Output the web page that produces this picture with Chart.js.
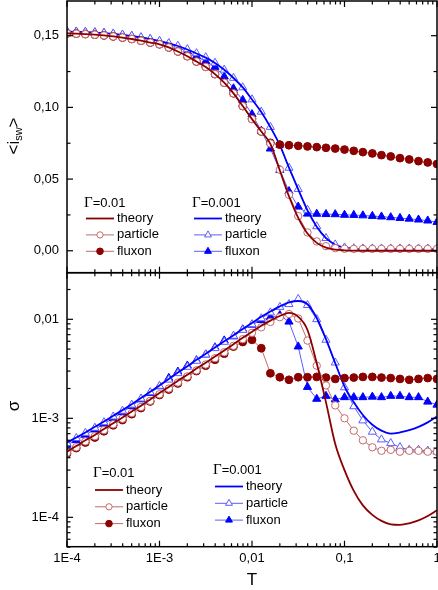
<!DOCTYPE html>
<html>
<head>
<meta charset="utf-8">
<script src="https://cdn.jsdelivr.net/npm/chart.js@4.4.0/dist/chart.umd.min.js"></script>
<style>
html, body { margin: 0; padding: 0; background: #fff; }
#wrap { position: relative; width: 438px; height: 590px; }
#topBox { position: absolute; left: 0; top: 0; width: 438px; height: 274px; }
#botBox { position: absolute; left: 0; top: 271px; width: 438px; height: 319px; }
</style>
</head>
<body>
<div id="wrap">
  <div id="topBox"><canvas id="topChart"></canvas></div>
  <div id="botBox"><canvas id="botChart"></canvas></div>
</div>
<script>
// temperature grid (10 points per decade)
const tValues = [
  1.0e-4, 1.26e-4, 1.58e-4, 2.0e-4, 2.51e-4, 3.16e-4, 3.98e-4, 5.01e-4, 6.31e-4, 7.94e-4,
  1.0e-3, 1.26e-3, 1.58e-3, 2.0e-3, 2.51e-3, 3.16e-3, 3.98e-3, 5.01e-3, 6.31e-3, 7.94e-3,
  1.0e-2, 1.26e-2, 1.58e-2, 2.0e-2, 2.51e-2, 3.16e-2, 3.98e-2, 5.01e-2, 6.31e-2, 7.94e-2,
  0.1, 0.126, 0.158, 0.2, 0.251, 0.316, 0.398, 0.501, 0.631, 0.794, 1.0
];

// <i_sw> panel
const swRedTheory = [
  .1516, .1514, .1511, .1507, .1502, .1495, .1487, .1477, .1465, .1452,
  .1440, .1418, .1390, .1357, .1320, .1282, .1232, .1172, .1098, .1009,
  .0918, .0832, .0745, .0560, .0380, .0230, .0120, .0055, .0022, .0008,
  .0003, .0001, 0, 0, 0, 0, 0, 0, 0, 0, 0
];
const swRedParticle = [
  .1516, .1514, .1511, .1507, .1502, .1495, .1487, .1477, .1465, .1452,
  .1440, .1418, .1390, .1357, .1320, .1282, .1232, .1172, .1098, .1009,
  .0918, .0832, .0748, .0565, .0390, .0242, .0128, .0065, .0032, .0018,
  .0014, .0013, .0013, .0013, .0013, .0013, .0013, .0013, .0013, .0013, .0013
];
const swRedFluxon = [
  .1516, .1514, .1511, .1507, .1502, .1495, .1487, .1477, .1465, .1452,
  .1440, .1418, .1390, .1357, .1320, .1283, .1232, .1172, .1098, .1009,
  .0920, .0832, .0753, .0740, .0736, .0732, .0728, .0723, .0718, .0713,
  .0706, .0697, .0688, .0679, .0667, .0658, .0646, .0637, .0625, .0616, .0605
];
const swBlueTheory = [
  .1528, .1527, .1525, .1522, .1518, .1513, .1506, .1498, .1488, .1476,
  .1462, .1447, .1428, .1404, .1376, .1347, .1310, .1262, .1205, .1139,
  .1055, .0967, .0862, .0737, .0580, .0428, .0282, .0168, .0088, .0042,
  .0022, .0014, .0011, .0010, .0010, .0010, .0010, .0010, .0010, .0010, .0010
];
const swBlueParticle = [
  .1529, .1528, .1526, .1523, .1519, .1514, .1507, .1499, .1489, .1477,
  .1463, .1448, .1429, .1405, .1377, .1349, .1310, .1262, .1205, .1139,
  .1055, .0969, .0863, .0737, .0578, .0430, .0285, .0170, .0088, .0043,
  .0022, .0016, .0015, .0015, .0015, .0015, .0015, .0015, .0015, .0015, .0015
];
const swBlueFluxon = [
  .1530, .1528, .1525, .1522, .1518, .1512, .1505, .1496, .1486, .1474,
  .1459, .1441, .1418, .1390, .1357, .1322, .1282, .1215, .1132, .1051,
  .0952, .0836, .0712, .0563, .0415, .0307, .0258, .0257, .0255, .0254,
  .0250, .0249, .0246, .0242, .0238, .0233, .0228, .0223, .0217, .0210, .0200
];

// sigma panel
const sgRedTheory = [
  4.6e-4, 5.25e-4, 6.0e-4, 6.8e-4, 7.8e-4, 8.9e-4, 1.02e-3, 1.17e-3, 1.34e-3, 1.55e-3,
  1.8e-3, 2.07e-3, 2.4e-3, 2.75e-3, 3.18e-3, 3.65e-3, 4.2e-3, 4.85e-3, 5.6e-3, 6.5e-3,
  7.5e-3, 8.6e-3, 9.7e-3, 1.08e-2, 1.16e-2, 1.06e-2, 7.8e-3, 3.6e-3, 1.45e-3, 5.5e-4,
  3.0e-4, 1.85e-4, 1.32e-4, 1.06e-4, 9.2e-5, 8.5e-5, 8.4e-5, 8.7e-5, 9.3e-5, 1.03e-4, 1.18e-4
];
const sgRedParticle = [
  4.5e-4, 5.1e-4, 5.85e-4, 6.6e-4, 7.6e-4, 8.7e-4, 9.9e-4, 1.13e-3, 1.3e-3, 1.5e-3,
  1.75e-3, 2.0e-3, 2.3e-3, 2.65e-3, 3.05e-3, 3.5e-3, 4.05e-3, 4.65e-3, 5.4e-3, 6.3e-3,
  7.3e-3, 8.3e-3, 9.4e-3, 1.05e-2, 1.13e-2, 1.02e-2, 6.1e-3, 3.4e-3, 2.15e-3, 1.35e-3,
  1.0e-3, 7.5e-4, 6.0e-4, 5.1e-4, 4.7e-4, 4.8e-4, 4.6e-4, 4.7e-4, 4.7e-4, 4.6e-4, 4.6e-4
];
const sgRedFluxon = [
  4.4e-4, 5.0e-4, 5.7e-4, 6.4e-4, 7.4e-4, 8.5e-4, 9.6e-4, 1.10e-3, 1.27e-3, 1.48e-3,
  1.72e-3, 1.95e-3, 2.25e-3, 2.6e-3, 3.0e-3, 3.4e-3, 3.9e-3, 4.5e-3, 5.3e-3, 5.9e-3,
  6.2e-3, 5.1e-3, 2.85e-3, 2.6e-3, 2.45e-3, 2.6e-3, 2.6e-3, 2.62e-3, 2.58e-3, 2.5e-3,
  2.55e-3, 2.58e-3, 2.62e-3, 2.62e-3, 2.58e-3, 2.55e-3, 2.5e-3, 2.45e-3, 2.5e-3, 2.55e-3, 2.5e-3
];
const sgBlueTheory = [
  5.7e-4, 6.4e-4, 7.2e-4, 8.2e-4, 9.3e-4, 1.06e-3, 1.21e-3, 1.39e-3, 1.6e-3, 1.85e-3,
  2.15e-3, 2.5e-3, 2.9e-3, 3.35e-3, 3.9e-3, 4.5e-3, 5.2e-3, 6.0e-3, 6.9e-3, 8.0e-3,
  9.2e-3, 1.06e-2, 1.2e-2, 1.35e-2, 1.48e-2, 1.53e-2, 1.42e-2, 1.03e-2, 6.3e-3, 3.6e-3,
  2.1e-3, 1.45e-3, 1.08e-3, 8.6e-4, 7.5e-4, 7.0e-4, 7.2e-4, 7.6e-4, 8.2e-4, 9.1e-4, 1.04e-3
];
const sgBlueParticle = [
  5.6e-4, 6.3e-4, 7.1e-4, 8.0e-4, 9.1e-4, 1.04e-3, 1.19e-3, 1.37e-3, 1.58e-3, 1.83e-3,
  2.12e-3, 2.45e-3, 2.85e-3, 3.3e-3, 3.8e-3, 4.4e-3, 5.1e-3, 5.9e-3, 6.8e-3, 7.8e-3,
  8.9e-3, 1.02e-2, 1.17e-2, 1.33e-2, 1.42e-2, 1.6e-2, 1.39e-2, 1.0e-2, 6.2e-3, 3.65e-3,
  2.05e-3, 1.32e-3, 9.5e-4, 7.3e-4, 6.1e-4, 5.6e-4, 5.1e-4, 4.8e-4, 4.8e-4, 4.7e-4, 4.6e-4
];
const sgBlueFluxon = [
  5.4e-4, 6.0e-4, 6.8e-4, 7.7e-4, 8.8e-4, 1.0e-3, 1.15e-3, 1.33e-3, 1.55e-3, 1.8e-3,
  2.1e-3, 2.55e-3, 2.95e-3, 3.4e-3, 3.85e-3, 4.4e-3, 5.2e-3, 6.1e-3, 6.7e-3, 7.9e-3,
  8.8e-3, 9.8e-3, 1.05e-2, 1.1e-2, 9.45e-3, 5.3e-3, 2.07e-3, 1.57e-3, 1.68e-3, 1.55e-3,
  1.63e-3, 1.63e-3, 1.63e-3, 1.65e-3, 1.63e-3, 1.68e-3, 1.68e-3, 1.63e-3, 1.63e-3, 1.47e-3, 1.37e-3
];

// ticks
const xTicks = [1e-4, 1e-3, 1e-2, 1e-1, 1];
const xTickLabels = ['1E-4', '1E-3', '0,01', '0,1', '1'];
const swTicks = [0, 0.05, 0.10, 0.15];
const swTickLabels = ['0,00', '0,05', '0,10', '0,15'];
const sgTicks = [1e-4, 1e-3, 1e-2];
const sgTickLabels = ['1E-4', '1E-3', '0,01'];

const DARK_RED = '#8b0000';
const LIGHT_RED = '#c46a6a';
const BLUE = '#0000ff';
const LIGHT_BLUE = '#5c5cff';
const FONT = '"Liberation Sans", Arial, sans-serif';

const pts = ys => tValues.map((t, i) => ({ x: t, y: ys[i] }));

function makeSets(theoryR, partR, fluxR, theoryB, partB, fluxB) {
  return [
    { label: 'theory', data: pts(theoryR), borderColor: DARK_RED, borderWidth: 1.8, pointRadius: 0,
      cubicInterpolationMode: 'monotone', showLine: true },
    { label: 'particle', data: pts(partR), borderColor: LIGHT_RED, borderWidth: 1, pointStyle: 'circle',
      pointRadius: 3.7, pointBorderWidth: 1, pointBorderColor: LIGHT_RED, pointBackgroundColor: '#fff', showLine: true },
    { label: 'fluxon', data: pts(fluxR), borderColor: LIGHT_RED, borderWidth: 1, pointStyle: 'circle',
      pointRadius: 3.9, pointBorderWidth: 1, pointBorderColor: DARK_RED, pointBackgroundColor: DARK_RED, showLine: true },
    { label: 'theory', data: pts(theoryB), borderColor: BLUE, borderWidth: 1.8, pointRadius: 0,
      cubicInterpolationMode: 'monotone', showLine: true },
    { label: 'particle', data: pts(partB), borderColor: LIGHT_BLUE, borderWidth: 1, pointStyle: 'triangle',
      pointRadius: 4.7, pointBorderWidth: 1, pointBorderColor: LIGHT_BLUE, pointBackgroundColor: '#fff', showLine: true },
    { label: 'fluxon', data: pts(fluxB), borderColor: LIGHT_BLUE, borderWidth: 1, pointStyle: 'triangle',
      pointRadius: 4.7, pointBorderWidth: 1, pointBorderColor: BLUE, pointBackgroundColor: BLUE, showLine: true }
  ];
}

// frame and inward tick marks on all four sides
const frameTicks = {
  id: 'frameTicks',
  afterDraw(chart, args, opts) {
    const { ctx, chartArea: a, scales } = chart;
    const tick = (x1, y1, x2, y2) => { ctx.beginPath(); ctx.moveTo(x1, y1); ctx.lineTo(x2, y2); ctx.stroke(); };
    ctx.save();
    ctx.strokeStyle = '#000';
    ctx.lineWidth = 1.2;
    const xs = [];
    for (let d = -4; d < 0; d++) for (let m = 1; m < 10; m++) xs.push([m * Math.pow(10, d), m === 1]);
    xs.push([1, true]);
    xs.forEach(([v, major]) => {
      const x = scales.x.getPixelForValue(v);
      const L = major ? 6 : 3.5;
      tick(x, a.top, x, a.top + L);
      tick(x, a.bottom, x, a.bottom - L);
    });
    opts.yTicks.forEach(([v, major]) => {
      const y = scales.y.getPixelForValue(v);
      if (y < a.top - 0.5 || y > a.bottom + 0.5) return;
      const L = major ? 6 : 3.5;
      tick(a.left, y, a.left + L, y);
      tick(a.right, y, a.right - L, y);
    });
    ctx.lineWidth = 1.5;
    ctx.strokeRect(a.left, a.top, a.right - a.left, a.bottom - a.top);
    ctx.restore();
  }
};

// two-column legend with Γ headers
const groupLegend = {
  id: 'groupLegend',
  afterDraw(chart, args, opts) {
    const ctx = chart.ctx;
    const sets = chart.data.datasets;
    ctx.save();
    opts.groups.forEach(g => {
      ctx.fillStyle = '#000';
      ctx.textBaseline = 'middle';
      ctx.textAlign = 'left';
      ctx.font = '15px "Liberation Serif", serif';
      ctx.fillText('Γ', g.x, g.y);
      const w = ctx.measureText('Γ').width;
      ctx.font = '13px ' + FONT;
      ctx.fillText(g.title, g.x + w, g.y);
      g.items.forEach((idx, j) => {
        const ds = sets[idx];
        const y = g.y0 + j * g.dy;
        const x0 = g.x + 2, x1 = g.x + 30;
        ctx.strokeStyle = ds.borderColor;
        ctx.lineWidth = ds.borderWidth;
        ctx.beginPath(); ctx.moveTo(x0, y); ctx.lineTo(x1, y); ctx.stroke();
        if (ds.pointRadius > 0) {
          ctx.fillStyle = ds.pointBackgroundColor;
          ctx.strokeStyle = ds.pointBorderColor;
          ctx.lineWidth = ds.pointBorderWidth;
          Chart.helpers.drawPoint(ctx, { pointStyle: ds.pointStyle, radius: ds.pointRadius * 0.85, rotation: 0, borderWidth: 1 }, (x0 + x1) / 2, y);
        }
        ctx.fillStyle = '#000';
        ctx.font = '13px ' + FONT;
        ctx.fillText(ds.label, x1 + 3, y);
      });
    });
    ctx.restore();
  }
};

// axis titles
const axisTitles = {
  id: 'axisTitles',
  afterDraw(chart, args, opts) {
    const ctx = chart.ctx;
    ctx.save();
    ctx.fillStyle = '#000';
    ctx.textBaseline = 'middle';
    opts.items.forEach(it => {
      ctx.save();
      ctx.translate(it.x, it.y);
      if (it.rotate) ctx.rotate(-Math.PI / 2);
      const parts = it.parts;
      let total = 0;
      parts.forEach(p => { ctx.font = p.size + 'px ' + FONT; p.w = ctx.measureText(p.text).width; total += p.w; });
      let x = -total / 2;
      ctx.textAlign = 'left';
      parts.forEach(p => {
        ctx.font = p.size + 'px ' + FONT;
        ctx.fillText(p.text, x, p.dy || 0);
        x += p.w;
      });
      ctx.restore();
    });
    ctx.restore();
  }
};

function minorLinear(step, lo, hi, majorStep) {
  const out = [];
  for (let v = lo; v <= hi + 1e-9; v += step) out.push([+v.toFixed(4), Math.abs(v / majorStep - Math.round(v / majorStep)) < 1e-6]);
  return out;
}
const sgTickMarks = [];
for (let d = -5; d < -1; d++) for (let m = 1; m < 10; m++) sgTickMarks.push([m * Math.pow(10, d), m === 1]);

const tickFont = { family: FONT, size: 13 };
// keep Chart.js from reserving room for half-labels at the axis ends
const noEndPadding = s => { s.paddingTop = 0; s.paddingBottom = 0; s.paddingLeft = 0; s.paddingRight = 0; };

new Chart(document.getElementById('topChart'), {
  type: 'scatter',
  data: { datasets: makeSets(swRedTheory, swRedParticle, swRedFluxon, swBlueTheory, swBlueParticle, swBlueFluxon) },
  options: {
    responsive: true, maintainAspectRatio: false, animation: false, events: [],
    layout: { autoPadding: false, padding: { top: 1, right: 1, bottom: 1.3, left: 0 } },
    scales: {
      x: { type: 'logarithmic', min: 1e-4, max: 1, display: false },
      y: {
        type: 'linear', min: -0.0153, max: 0.1742,
        grid: { display: false, drawTicks: false }, border: { display: false },
        afterBuildTicks: s => { s.ticks = swTicks.map(v => ({ value: v })); },
        afterFit: s => { s.width = 67; noEndPadding(s); },
        ticks: { color: '#000', font: tickFont, padding: 8,
          callback: (v) => swTickLabels[swTicks.findIndex(t => Math.abs(t - v) < 1e-9)] }
      }
    },
    plugins: {
      legend: { display: false }, tooltip: { enabled: false },
      frameTicks: { yTicks: minorLinear(0.025, 0, 0.175, 0.05) },
      groupLegend: { groups: [
        { x: 84, y: 203, title: '=0.01', y0: 218.5, dy: 16.4, items: [0, 1, 2] },
        { x: 192, y: 203, title: '=0.001', y0: 218.5, dy: 16.4, items: [3, 4, 5] }
      ] },
      axisTitles: { items: [
        { x: 14, y: 136, rotate: true, parts: [
          { text: '<i', size: 17 }, { text: 'sw', size: 11, dy: 5 }, { text: '>', size: 17 }
        ] }
      ] }
    }
  },
  plugins: [frameTicks, groupLegend, axisTitles]
});

new Chart(document.getElementById('botChart'), {
  type: 'scatter',
  data: { datasets: makeSets(sgRedTheory, sgRedParticle, sgRedFluxon, sgBlueTheory, sgBlueParticle, sgBlueFluxon) },
  options: {
    responsive: true, maintainAspectRatio: false, animation: false, events: [],
    layout: { autoPadding: false, padding: { top: 1.7, right: 1, bottom: 0, left: 0 } },
    scales: {
      x: {
        type: 'logarithmic', min: 1e-4, max: 1,
        grid: { display: false, drawTicks: false }, border: { display: false },
        afterBuildTicks: s => { s.ticks = xTicks.map(v => ({ value: v })); },
        afterFit: s => { s.height = 43.3; noEndPadding(s); },
        ticks: { color: '#000', font: tickFont, padding: 4, maxRotation: 0, autoSkip: false,
          callback: (v) => xTickLabels[xTicks.findIndex(t => Math.abs(t - v) / t < 1e-6)] }
      },
      y: {
        type: 'logarithmic', min: 5.05e-5, max: 0.02956,
        grid: { display: false, drawTicks: false }, border: { display: false },
        afterBuildTicks: s => { s.ticks = sgTicks.map(v => ({ value: v })); },
        afterFit: s => { s.width = 67; noEndPadding(s); },
        ticks: { color: '#000', font: tickFont, padding: 8, autoSkip: false,
          callback: (v) => sgTickLabels[sgTicks.findIndex(t => Math.abs(t - v) / t < 1e-6)] }
      }
    },
    plugins: {
      legend: { display: false }, tooltip: { enabled: false },
      frameTicks: { yTicks: sgTickMarks },
      groupLegend: { groups: [
        { x: 93, y: 473 - 271, title: '=0.01', y0: 490 - 271, dy: 16.8, items: [0, 1, 2] },
        { x: 213, y: 470 - 271, title: '=0.001', y0: 486.5 - 271, dy: 16.8, items: [3, 4, 5] }
      ] },
      axisTitles: { items: [
        { x: 14, y: 406 - 271, rotate: true, parts: [{ text: 'σ', size: 17 }] },
        { x: 252, y: 580 - 271, rotate: false, parts: [{ text: 'T', size: 17 }] }
      ] }
    }
  },
  plugins: [frameTicks, groupLegend, axisTitles]
});
</script>
</body>
</html>
